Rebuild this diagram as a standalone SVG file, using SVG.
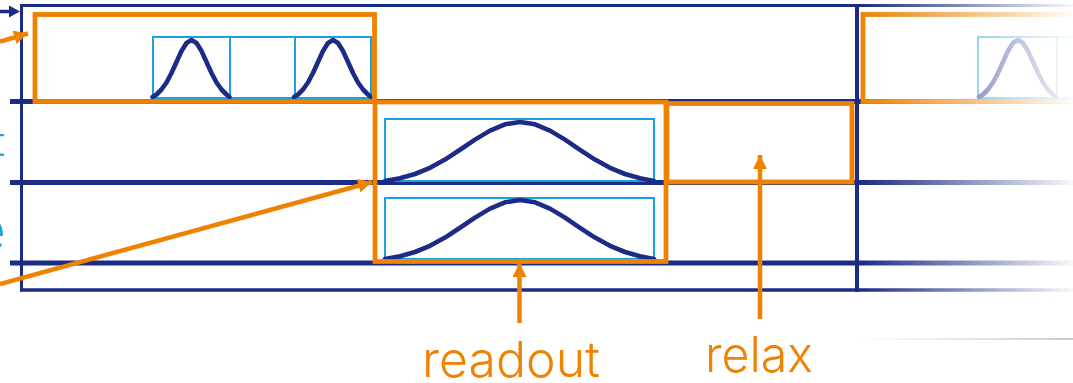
<svg xmlns="http://www.w3.org/2000/svg" width="1073" height="383" viewBox="0 0 1073 383">
<style>
.navy{stroke:#1c2b85;fill:none}
.qline{stroke:#1c2b85;stroke-width:5;fill:none}
.obox{stroke:#ef8200;stroke-width:4.8;fill:none}
.pbox{stroke:#1ea0dc;stroke-width:2;fill:none}
.pulse{stroke:#1c2b85;stroke-width:4.6;fill:none;stroke-linejoin:round;stroke-linecap:round}
.oarrow{stroke:#ef8200;stroke-width:4.5;fill:none}
.lbl{font-family:Inter,"Liberation Sans",sans-serif;font-weight:300;fill:#ef8200}
.blbl{font-family:Inter,"Liberation Sans",sans-serif;font-weight:300;fill:#1ea0dc}
</style>
<defs>
<marker id="ohead" markerUnits="userSpaceOnUse" markerWidth="15" markerHeight="15" refX="14" refY="7" orient="auto">
<path d="M0,0 L14,7 L0,14 z" fill="#ef8200"/>
</marker>
<path id="gs" d="M-39,0 L-35,-2.5 L-30,-7.5 L-25,-14.5 L-20,-24 L-15,-35 L-10,-46 L-5,-54 L0,-57 L5,-54 L10,-46 L15,-35 L20,-24 L25,-14.5 L30,-7.5 L35,-2.5 L38,0"/>
<path id="gl" d="M-135,0 L-120,-2.7 L-105,-7 L-90,-13.2 L-75,-21.4 L-60,-31.2 L-45,-41.4 L-30,-50.4 L-15,-56.7 L0,-59 L15,-56.7 L30,-50.4 L45,-41.4 L60,-31.2 L75,-21.4 L90,-13.2 L105,-7 L120,-2.7 L134,0"/>
<linearGradient id="fade" x1="860" y1="0" x2="1073" y2="0" gradientUnits="userSpaceOnUse">
<stop offset="0" stop-color="#fff" stop-opacity="0"/>
<stop offset="1" stop-color="#fff" stop-opacity="0.97"/>
</linearGradient>
<linearGradient id="gray" x1="850" y1="0" x2="1073" y2="0" gradientUnits="userSpaceOnUse">
<stop offset="0" stop-color="#c8c8c8" stop-opacity="0"/>
<stop offset="1" stop-color="#b8b8b8" stop-opacity="1"/>
</linearGradient>
</defs>

<g id="frame">
<line class="navy" x1="21.5" y1="5.5" x2="1073" y2="5.5" stroke-width="3"/>
<line class="navy" x1="21.5" y1="4" x2="21.5" y2="291.5" stroke-width="3"/>
<line class="navy" x1="20" y1="290" x2="1073" y2="290" stroke-width="3.5"/>
<line class="qline" x1="10" y1="101.5" x2="1073" y2="101.5"/>
<line class="qline" x1="10" y1="182.5" x2="1073" y2="182.5"/>
<line class="qline" x1="10" y1="263" x2="1073" y2="263"/>
</g>

<g id="prep-pulses">
<rect class="pbox" x="153" y="37" width="77" height="61"/>
<rect class="pbox" x="230" y="37" width="65" height="61"/>
<rect class="pbox" x="295" y="37" width="76" height="61"/>
<use href="#gs" class="pulse" transform="translate(191.5,97)"/>
<use href="#gs" class="pulse" transform="translate(333,97)"/>
</g>

<g id="readout-pulses">
<rect class="pbox" x="385" y="119" width="269" height="62"/>
<rect class="pbox" x="385" y="198" width="269" height="61"/>
<use href="#gl" class="pulse" transform="translate(520,181)"/>
<use href="#gl" class="pulse" transform="translate(520,259)"/>
</g>

<g id="next-cycle">
<rect class="pbox" x="978" y="37" width="79" height="61"/>
<rect class="pbox" x="1057" y="37" width="40" height="61"/>
<use href="#gs" class="pulse" transform="translate(1018,97)"/>
<rect class="obox" x="863" y="14.5" width="230" height="87"/>
</g>

<g id="prep-box">
<rect class="obox" x="35" y="14.5" width="339.5" height="87"/>
</g>

<g id="readout-box">
<rect class="obox" x="375" y="102" width="291" height="159.5"/>
</g>

<g id="relax-box">
<rect class="obox" x="667" y="103.5" width="185" height="78.5"/>
</g>

<line id="right-divider" class="navy" x1="857" y1="4" x2="857" y2="292" stroke-width="4"/>

<rect id="fade-overlay" x="860" y="0" width="213" height="300" fill="url(#fade)"/>
<line id="gray-rule" x1="850" y1="339" x2="1073" y2="339" stroke="url(#gray)" stroke-width="1.5"/>

<g id="connectors">
<line x1="0" y1="11.5" x2="11" y2="11.5" stroke="#1c2b85" stroke-width="3.5"/>
<path d="M9,5.5 L20,11.5 L9,17.5 z" fill="#1c2b85"/>
<line class="oarrow" x1="0" y1="41.5" x2="28" y2="33.5" marker-end="url(#ohead)"/>
<line class="oarrow" x1="0" y1="284" x2="372" y2="182" marker-end="url(#ohead)"/>
<line class="oarrow" x1="519.5" y1="323" x2="519.5" y2="263" marker-end="url(#ohead)"/>
<line class="oarrow" x1="760" y1="319" x2="760" y2="155" marker-end="url(#ohead)"/>
</g>

<g id="labels">
<text class="lbl" x="422" y="377" font-size="49" textLength="178" lengthAdjust="spacingAndGlyphs">readout</text>
<text class="lbl" x="705" y="372" font-size="49" textLength="108" lengthAdjust="spacingAndGlyphs">relax</text>
<text class="blbl" x="5" y="156" font-size="40" text-anchor="end">t</text>
<text class="blbl" x="6" y="251" font-size="60" text-anchor="end">e</text>
</g>
</svg>
